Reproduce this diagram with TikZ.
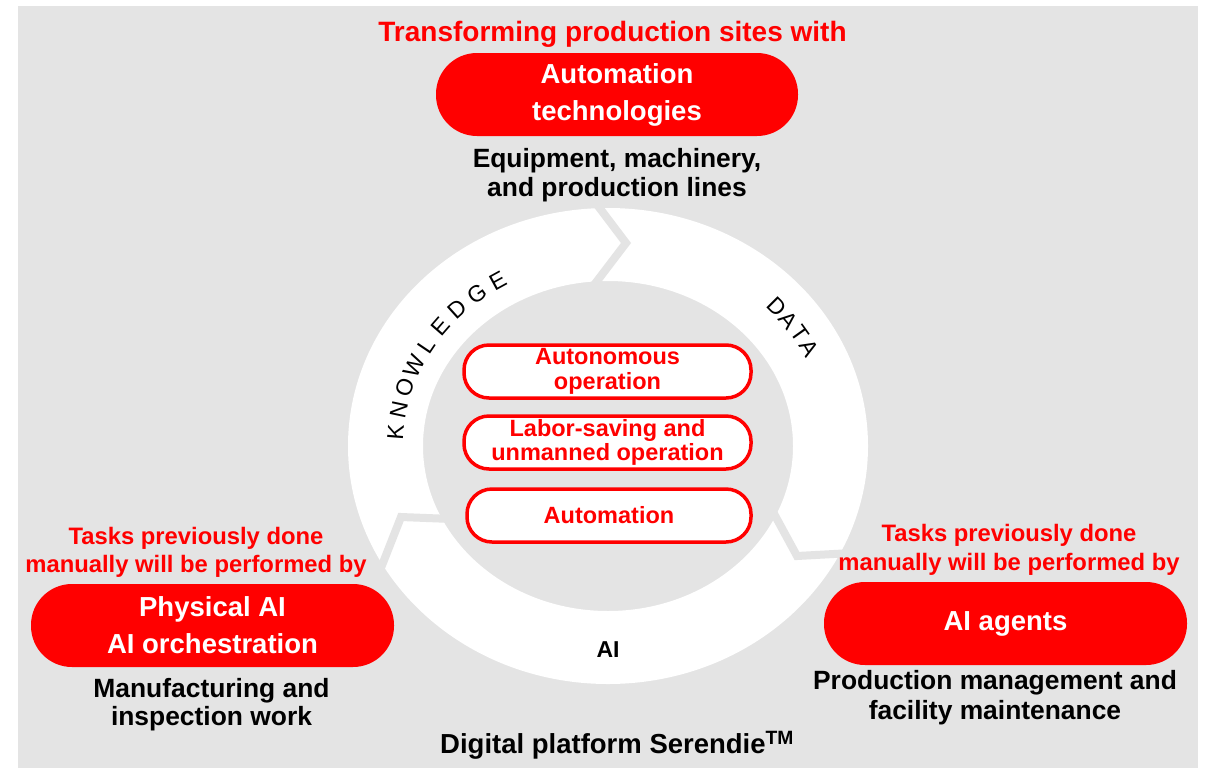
\documentclass[tikz,border=0pt]{standalone}
\usepackage{fontspec}
\setmainfont{Liberation Sans}
\definecolor{bggray}{RGB}{228,228,228}
\definecolor{hred}{RGB}{255,0,0}
\begin{document}
\begin{tikzpicture}[x=1pt,y=-1pt,
  pill/.style={fill=hred, text=white, rounded corners=41pt, align=center, inner sep=0pt,
    font=\fontsize{27.5}{37}\selectfont\bfseries, minimum width=362pt, minimum height=83pt},
  goal/.style={draw=hred, fill=white, line width=3.5pt, rounded corners=25pt, text=hred, align=center,
    font=\fontsize{23.5}{24.5}\selectfont\bfseries, inner sep=0pt, minimum height=53pt},
  redlab/.style={text=hred, align=center, inner sep=0pt, font=\fontsize{23.8}{28.5}\selectfont\bfseries},
  desc/.style={text=black, align=center, inner sep=0pt, font=\fontsize{26.4}{29.5}\selectfont\bfseries},
  ringletter/.style={font=\fontsize{23}{23}\selectfont, inner sep=0pt},
  chev/.style={draw=bggray, line width=8pt, line join=miter}
]
\useasboundingbox (0,0) rectangle (1207,769);
\fill[bggray] (18,6) rectangle (1198,768);

% ring
\fill[white, even odd rule] (608,446) ellipse [x radius=260, y radius=238]
                            (608,446) ellipse [x radius=185, y radius=165];
% chevron gaps
\draw[chev] (593.5,200) -- (626,243) -- (592.5,287);
\draw[chev] (377,578) -- (401,517) -- (452,519);
\draw[chev] (772,510) -- (797,556) -- (852,553);

% ring words
\foreach \L [count=\i from 0] in {K,N,O,W,L,E,D,G,E} {
  \pgfmathsetmacro{\t}{176-\i*6.85}
  \pgfmathsetmacro{\rot}{atan2(-193*cos(\t),213*sin(\t))}
  \node[ringletter, rotate=\rot] (kn\i) at ({608+213*cos(\t)},{446-193*sin(\t)}) {\L};
}
\foreach \L [count=\i from 0] in {D,A,T,A} {
  \pgfmathsetmacro{\t}{42.2-\i*4.67}
  \pgfmathsetmacro{\rot}{atan2(-207*cos(\t),228*sin(\t))}
  \node[ringletter, rotate=\rot] (da\i) at ({608+228*cos(\t)},{446-207*sin(\t)}) {\L};
}
\node[font=\fontsize{23}{23}\selectfont\bfseries, inner sep=0pt] (ai) at (608,650) {AI};

% inner goals
\node[goal, minimum width=287pt] (g1) at (607.5,371.5) {Autonomous\\operation};
\node[goal, minimum width=287pt] (g2) at (607.5,442.5) {Labor-saving and\\unmanned operation};
\node[goal, minimum width=284pt] (g3) at (609,515.5) {Automation};

% top
\node[text=hred, inner sep=0pt, font=\fontsize{28}{28}\selectfont\bfseries] (title) at (612.5,34) {Transforming production sites with};
\node[pill] (top) at (617,94.5) {Automation\\technologies};
\node[desc] (topd) at (617,175) {Equipment, machinery,\\and production lines};

% left
\node[redlab] (lred) at (196,552.5) {Tasks previously done\\manually will be performed by};
\node[pill, minimum width=363pt] (left) at (212.5,625.5) {Physical AI\\AI orchestration};
\node[desc, font=\fontsize{26.4}{28}\selectfont\bfseries] (leftd) at (211.5,705) {Manufacturing and\\inspection work};

% right
\node[redlab] (rred) at (1009,550) {Tasks previously done\\manually will be performed by};
\node[pill, minimum width=363pt] (right) at (1005.5,623.5) {\raisebox{-4pt}{AI agents}};
\node[desc] (rightd) at (995,697.5) {Production management and\\facility maintenance};

% bottom
\node[anchor=west, inner sep=0pt, font=\fontsize{27.5}{27.5}\selectfont\bfseries] (plat) at (440,745) {Digital platform Serendie\textsuperscript{TM}};
\end{tikzpicture}
\end{document}
